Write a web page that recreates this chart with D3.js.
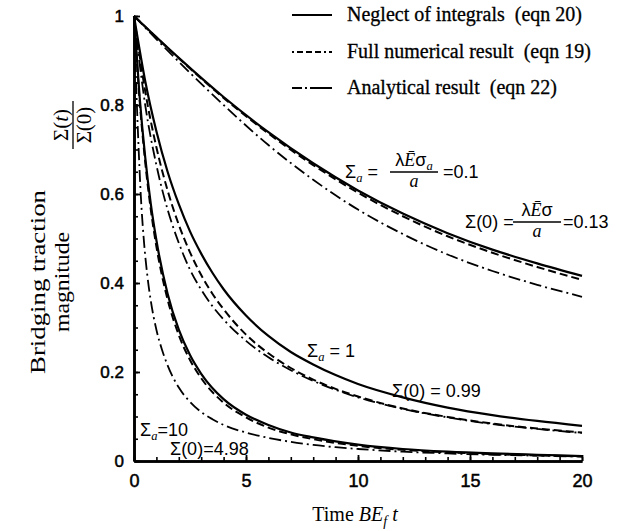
<!DOCTYPE html>
<html><head><meta charset="utf-8">
<script src="https://cdn.jsdelivr.net/npm/d3@7"></script>
<style>
body{margin:0;background:#fff}
svg{display:block;background:#fff}
.sans{font-family:"Liberation Sans",Arial,sans-serif}
.serif{font-family:"Liberation Serif","Times New Roman",serif}
</style>
</head><body>
<svg id="c" width="620" height="531"></svg>
<script>
// ---------------- data ----------------
// Sigma_a = 0.1 family
const tA = [0, 2, 4, 6, 8, 10, 12, 14, 16, 18, 20];
const solidA   = [1, 0.906, 0.818, 0.739, 0.669, 0.608, 0.556, 0.512, 0.475, 0.444, 0.416];
const dashedA  = [1, 0.905, 0.816, 0.736, 0.665, 0.603, 0.550, 0.505, 0.468, 0.436, 0.407];
const dashdotA = [1, 0.897, 0.800, 0.710, 0.632, 0.565, 0.510, 0.464, 0.427, 0.396, 0.369];
// Sigma_a = 1 family
const tB = [0, 0.5, 1, 1.5, 2, 2.5, 3, 3.5, 4, 5, 6, 7, 8, 9, 10, 12, 14, 16, 18, 20];
const solidB   = [1, 0.854, 0.741, 0.650, 0.577, 0.516, 0.466, 0.423, 0.386, 0.327, 0.281, 0.245, 0.217, 0.193, 0.173, 0.143, 0.120, 0.103, 0.090, 0.079];
const dashedB  = [1, 0.831, 0.705, 0.608, 0.531, 0.469, 0.418, 0.376, 0.341, 0.284, 0.242, 0.209, 0.183, 0.162, 0.145, 0.118, 0.099, 0.084, 0.073, 0.064];
const dashdotB = [1, 0.800, 0.665, 0.565, 0.490, 0.430, 0.385, 0.348, 0.318, 0.270, 0.233, 0.204, 0.180, 0.160, 0.143, 0.117, 0.098, 0.083, 0.072, 0.063];
// Sigma_a = 10 family
const tC = [0, 0.25, 0.5, 0.75, 1, 1.5, 2, 2.5, 3, 4, 5, 6, 7, 8, 10, 12, 14, 16, 18, 20];
const solidC  = [1, 0.819, 0.683, 0.578, 0.496, 0.376, 0.295, 0.238, 0.196, 0.139, 0.104, 0.081, 0.064, 0.053, 0.037, 0.027, 0.021, 0.017, 0.014, 0.011];
const dashedC = [1, 0.811, 0.672, 0.565, 0.482, 0.363, 0.283, 0.227, 0.186, 0.131, 0.098, 0.075, 0.060, 0.049, 0.034, 0.025, 0.0195, 0.0155, 0.0126, 0.0104];
const tC2 = [0, 0.1, 0.2, 0.3, 0.45, 0.6, 0.75, 1, 1.25, 1.5, 2, 2.5, 3, 3.5, 4, 5, 6, 7, 8, 9, 10, 12, 14, 16, 18, 20];
const dashdotC = [1, 0.84, 0.71, 0.60, 0.49, 0.415, 0.36, 0.295, 0.25, 0.215, 0.165, 0.133, 0.11, 0.094, 0.081, 0.064, 0.052, 0.043, 0.036, 0.031, 0.027, 0.021, 0.017, 0.014, 0.012, 0.010];

const xMajor = [0, 5, 10, 15, 20];
const yMajor = [0, 0.2, 0.4, 0.6, 0.8, 1];
const yTickLabels = ["0", "0.2", "0.4", "0.6", "0.8", "1"];
const legendLabels = ["Neglect of integrals  (eqn 20)", "Full numerical result  (eqn 19)", "Analytical result  (eqn 22)"];
const styles = ["solid", "dashed", "dashdot"];

// ---------------- drawing ----------------
const svg = d3.select("#c");
const x = d3.scaleLinear().domain([0, 20]).range([134, 582]);
const y = d3.scaleLinear().domain([0, 1]).range([461, 16]);

const styleDef = {
  solid:   {w: 2.2, dash: null},
  dashed:  {w: 2.0, dash: "8,4"},
  dashdot: {w: 1.8, dash: "12,4,2,4"}
};

const series = [
  {t: tA, v: solidA, s: "solid"}, {t: tA, v: dashedA, s: "dashed"}, {t: tA, v: dashdotA, s: "dashdot"},
  {t: tB, v: solidB, s: "solid"}, {t: tB, v: dashedB, s: "dashed"}, {t: tB, v: dashdotB, s: "dashdot"},
  {t: tC, v: solidC, s: "solid"}, {t: tC, v: dashedC, s: "dashed"}, {t: tC2, v: dashdotC, s: "dashdot"}
];

const line = d3.line().x(d => x(d[0])).y(d => y(d[1])).curve(d3.curveMonotoneX);

svg.append("g").selectAll("path").data(series).join("path")
  .attr("d", d => line(d.t.map((tt, i) => [tt, d.v[i]])))
  .attr("fill", "none").attr("stroke", "#000")
  .attr("stroke-width", d => styleDef[d.s].w)
  .attr("stroke-dasharray", d => styleDef[d.s].dash)
  .attr("stroke-linejoin", "round");

// axes
const gx = svg.append("g").attr("transform", `translate(0,${y(0)})`);
gx.call(d3.axisBottom(x).ticks(20).tickSize(-4).tickSizeOuter(0).tickFormat(""));
gx.selectAll(".tick line").attr("stroke-width", 1.6);
const gx2 = svg.append("g").attr("transform", `translate(0,${y(0)})`);
gx2.call(d3.axisBottom(x).tickValues(xMajor).tickSize(-6).tickSizeOuter(0).tickPadding(13).tickFormat(d3.format("d")));
gx2.selectAll(".tick line").attr("stroke-width", 1.8);
gx2.selectAll("text").attr("class", "sans").attr("font-size", 18).attr("fill", "#000")
  .attr("stroke", "#000").attr("stroke-width", 0.5);

const gy = svg.append("g").attr("transform", `translate(${x(0)},0)`);
gy.call(d3.axisLeft(y).tickValues(d3.range(0, 1.0001, 0.05)).tickSize(-4).tickSizeOuter(0).tickFormat(""));
gy.selectAll(".tick line").attr("stroke-width", 1.6);
const gy2 = svg.append("g").attr("transform", `translate(${x(0)},0)`);
gy2.call(d3.axisLeft(y).tickValues(yMajor).tickSize(-6).tickSizeOuter(0).tickPadding(10)
  .tickFormat((d, i) => yTickLabels[i]));
gy2.selectAll(".tick line").attr("stroke-width", 1.8);
gy2.selectAll("text").attr("class", "sans").attr("font-size", 17).attr("fill", "#000")
  .attr("stroke", "#000").attr("stroke-width", 0.5);
svg.selectAll(".domain").attr("stroke", "#000").attr("stroke-width", 2.6);

// legend
const leg = svg.append("g");
const legRows = [15, 52, 88];
styles.forEach((s, i) => {
  leg.append("line").attr("x1", 292).attr("x2", 332).attr("y1", legRows[i]).attr("y2", legRows[i])
    .attr("stroke", "#000").attr("stroke-width", styleDef[s].w)
    .attr("stroke-dasharray", s === "dashed" ? "2,3,6,3,6,3,6,3" : s === "dashdot" ? "10,3,2,3,22" : null);
  leg.append("text").attr("class", "serif").attr("x", 347).attr("y", legRows[i] + 6)
    .attr("font-size", 20).attr("fill", "#000").attr("stroke", "#000").attr("stroke-width", 0.3)
    .style("white-space", "pre").text(legendLabels[i]);
});

// axis titles
const xt = svg.append("text").attr("class", "serif").attr("x", 355).attr("y", 521)
  .attr("text-anchor", "middle").attr("font-size", 20).attr("fill", "#000");
xt.append("tspan").text("Time ");
xt.append("tspan").attr("font-style", "italic").text("BE");
xt.append("tspan").attr("font-style", "italic").attr("font-size", 14).attr("dy", 5).text("f");
xt.append("tspan").attr("font-style", "italic").attr("dy", -5).text(" t");

const yt = svg.append("g").attr("transform", "translate(45,282) rotate(-90)");
yt.append("text").attr("class", "serif").attr("text-anchor", "middle").attr("y", 0)
  .attr("font-size", 22).attr("fill", "#000").attr("textLength", 184).attr("lengthAdjust", "spacingAndGlyphs")
  .text("Bridging traction");
yt.append("text").attr("class", "serif").attr("text-anchor", "middle").attr("y", 24)
  .attr("font-size", 22).attr("fill", "#000").attr("textLength", 100).attr("lengthAdjust", "spacingAndGlyphs")
  .text("magnitude");

const yf = svg.append("g").attr("transform", "translate(73,125) rotate(-90)");
const num = yf.append("text").attr("class", "serif").attr("text-anchor", "middle").attr("y", -5)
  .attr("font-size", 21).attr("fill", "#000");
num.append("tspan").text("Σ(");
num.append("tspan").attr("font-style", "italic").text("t");
num.append("tspan").text(")");
yf.append("line").attr("x1", -24).attr("x2", 24).attr("y1", 0).attr("y2", 0).attr("stroke", "#000").attr("stroke-width", 1.3);
yf.append("text").attr("class", "serif").attr("text-anchor", "middle").attr("y", 18)
  .attr("font-size", 21).attr("fill", "#000").text("Σ(0)");

// curve labels
function sigmaA(g, xx, yy, rest, fs) {
  const t = g.append("text").attr("class", "sans").attr("x", xx).attr("y", yy).attr("font-size", fs).attr("fill", "#000");
  t.append("tspan").text("Σ");
  t.append("tspan").attr("class", "serif").attr("font-style", "italic").attr("font-size", fs * 0.7).attr("dy", 4).text("a");
  t.append("tspan").attr("dy", -4).text(rest);
  return t;
}
function fracLabel(g, cx, barY, half, numParts, den, fs) {
  const n = g.append("text").attr("class", "sans").attr("x", cx).attr("y", barY - 6).attr("text-anchor", "middle")
    .attr("font-size", fs).attr("fill", "#000");
  numParts.forEach(p => {
    const ts = n.append("tspan").text(p.t);
    if (p.it) ts.attr("class", "serif").attr("font-style", "italic");
    if (p.sub) ts.attr("class", "serif").attr("font-style", "italic").attr("font-size", fs * 0.7).attr("dy", 4);
  });
  g.append("line").attr("x1", cx - half).attr("x2", cx + half).attr("y1", barY).attr("y2", barY)
    .attr("stroke", "#000").attr("stroke-width", 1.4);
  g.append("text").attr("class", "serif").attr("font-style", "italic").attr("x", cx).attr("y", barY + 15)
    .attr("text-anchor", "middle").attr("font-size", fs).attr("fill", "#000").text(den);
}
const lab = svg.append("g");
sigmaA(lab, 345, 178, " =", 18);
fracLabel(lab, 414, 172, 24, [{t: "λ"}, {t: "Ē", it: true}, {t: "σ"}, {t: "a", sub: true}], "a", 18);
lab.append("text").attr("class", "sans").attr("x", 443).attr("y", 178).attr("font-size", 18).text("=0.1");

lab.append("text").attr("class", "sans").attr("x", 465).attr("y", 228).attr("font-size", 18).text("Σ(0) =");
fracLabel(lab, 537, 222, 24, [{t: "λ"}, {t: "Ē", it: true}, {t: "σ"}], "a", 18);
lab.append("text").attr("class", "sans").attr("x", 563).attr("y", 228).attr("font-size", 18).text("=0.13");

sigmaA(lab, 307, 357, " = 1", 18);
lab.append("text").attr("class", "sans").attr("x", 392).attr("y", 397).attr("font-size", 18).text("Σ(0) = 0.99");
sigmaA(lab, 140, 436, "=10", 18);
lab.append("text").attr("class", "sans").attr("x", 170).attr("y", 455).attr("font-size", 18).text("Σ(0)=4.98");
</script>
</body></html>
